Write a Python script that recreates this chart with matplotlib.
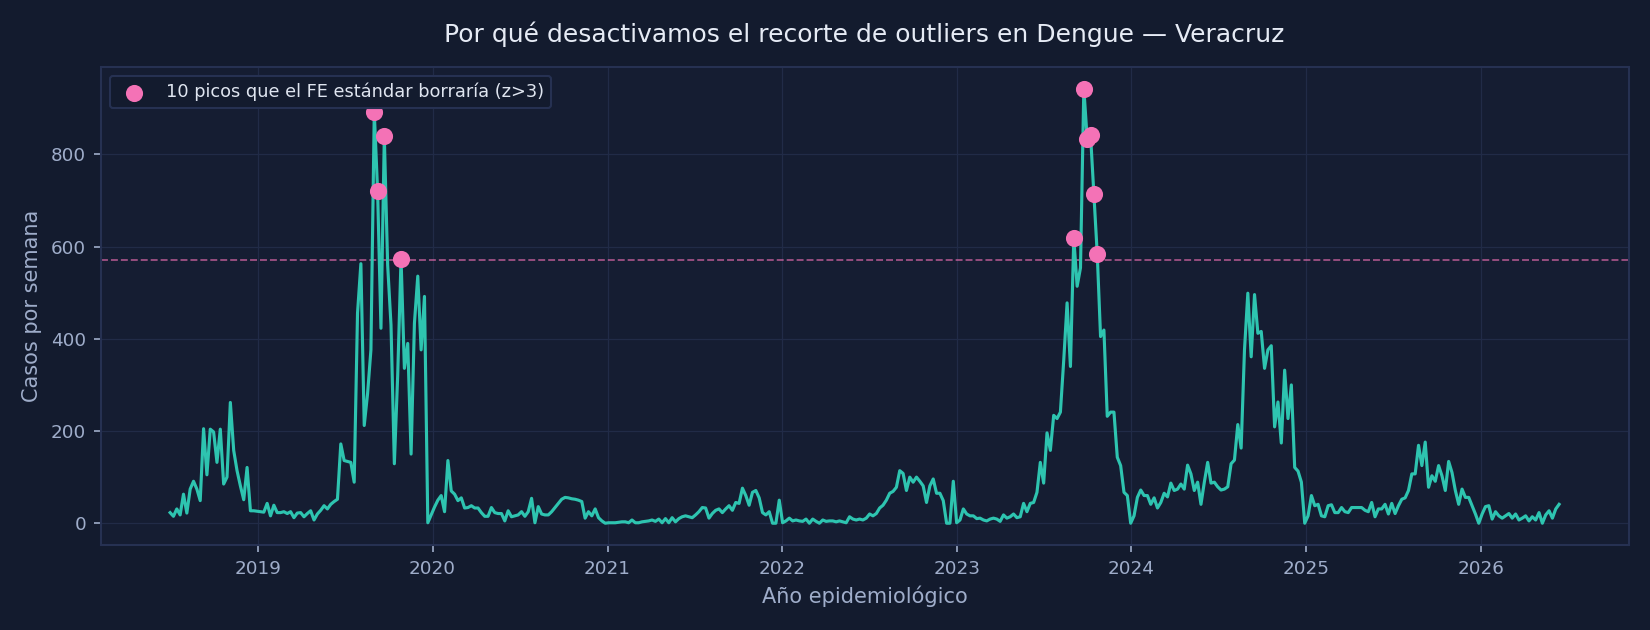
import pandas as pd
import matplotlib.pyplot as plt

# casos semanales de dengue, Veracruz (semana epidemiológica, inicia en domingo)
inicio = '2018-07-01'

casos_2018 = [23, 15, 31, 18, 63, 22, 74, 91, 74, 49, 205, 105, 204, 198, 132, 204, 85, 100, 262, 158,
              114, 81, 51, 121, 27, 27, 26]
casos_2019 = [25, 24, 43, 16, 39, 23, 23, 25, 21, 25, 12, 22,
              23, 14, 21, 27, 7, 20, 28, 38, 31, 41, 47, 52, 172, 136, 134, 132, 89, 456, 563, 212,
              281, 376, 892, 720, 423, 839, 560, 430, 129, 321, 574, 336, 390, 150, 434, 536, 376, 492, 1, 18]
casos_2020 = [35, 50, 60, 25, 136, 70, 63, 49, 55, 33, 34, 38, 33, 33, 23, 15, 15,
              34, 23, 21, 21, 5, 27, 14, 16, 18, 25, 15, 25, 54, 1, 36, 20, 18, 18, 25, 34,
              43, 52, 56, 55, 53, 52, 50, 47, 11, 25, 16, 31, 12, 5, 0]
casos_2021 = [1, 1, 1, 2, 3, 3, 1, 7, 1, 1, 3, 4, 5, 7, 4, 9, 1, 10, 1, 12, 3, 10,
              14, 16, 14, 12, 18, 25, 34, 33, 11, 21, 28, 31, 23, 31, 38, 28, 45, 43, 76, 60,
              39, 67, 71, 55, 23, 18, 25, 0, 0, 50]
casos_2022 = [1, 5, 11, 5, 7, 5, 4, 9, 0, 9, 4, 0, 7, 4, 5, 5, 3, 5, 3, 1, 14, 9, 7, 9, 7, 11, 20,
              16, 21, 33, 39, 50, 65, 69, 78, 114, 108, 71, 100, 89, 100, 91, 81, 45, 81, 96, 65,
              65, 49, 0, 0, 91]
casos_2023 = [1, 7, 31, 20, 16, 16, 10, 11, 7, 5, 9, 11, 9, 4, 18, 11, 14, 20, 12, 14, 43, 25, 43, 45,
              67, 132, 87, 196, 158, 234, 227, 241,
              354, 478, 340, 619, 514, 554, 943, 834, 843, 715, 585, 405, 419, 232, 241, 241, 143, 125,
              67, 60, 0]
casos_2024 = [16, 56, 72, 60, 60, 41, 55, 33, 45, 65, 57, 87, 71, 74, 85, 74, 126, 107, 71, 89, 41, 89,
              132, 87, 89, 79, 72, 74, 79, 129, 137, 214, 163, 376, 499, 361,
              496, 412, 416, 336, 376, 385, 209, 263, 174, 332, 227, 300, 121, 113, 89, 0]
casos_2025 = [16, 60, 38, 41, 16, 14, 38, 40, 23, 23, 34, 25, 23, 34, 34, 34, 34, 28, 25, 45, 14, 31,
              31, 41, 20, 43, 21, 38, 52, 55, 71, 107, 107, 169, 125, 176, 78, 103, 91, 125, 103,
              71, 134, 110, 71, 41, 74, 56, 56, 38, 20, 0]
casos_2026 = [20, 36, 38, 9, 25, 16, 11, 16, 21, 11, 20, 7, 11, 16, 5, 14, 7, 23, 0, 18, 27, 11, 31, 41]

umbral = 570  # corte z>3 del FE estándar

casos = casos_2018 + casos_2019 + casos_2020 + casos_2021 + casos_2022 + casos_2023 + casos_2024 + casos_2025 + casos_2026
df = pd.DataFrame({'fecha': pd.date_range(inicio, periods=len(casos), freq='7D'), 'casos': casos})
picos = df[df['casos'] > umbral]

fondo = '#131b2e'
fondo_ax = '#151d32'
texto = '#9fadca'

fig, ax = plt.subplots(figsize=(11, 4.2), dpi=150)
fig.patch.set_facecolor(fondo)
ax.set_facecolor(fondo_ax)

ax.plot(df['fecha'], df['casos'], color='#2ec4b0', linewidth=1.5, zorder=3)
ax.axhline(y=umbral, color='#f472b6', linestyle='--', linewidth=0.9, alpha=0.6, zorder=2)
ax.scatter(picos['fecha'], picos['casos'], color='#f472b6', s=52, zorder=4,
           label='10 picos que el FE estándar borraría (z>3)')

ax.set_title('Por qué desactivamos el recorte de outliers en Dengue — Veracruz',
             color='#e6ebf5', fontsize=12, pad=12)
ax.set_xlabel('Año epidemiológico', color=texto, fontsize=10)
ax.set_ylabel('Casos por semana', color=texto, fontsize=10)
ax.tick_params(colors=texto, labelsize=8.8)
ax.grid(True, color='#212b47', linewidth=0.6)
ax.set_axisbelow(True)
for s in ax.spines.values():
    s.set_color('#263152')
    s.set_linewidth(1.0)

leg = ax.legend(loc='upper left', fontsize=8.5, facecolor=fondo, edgecolor='#263152', labelcolor='#dfe5f0')
leg.get_frame().set_alpha(1)

plt.subplots_adjust(left=0.061, right=0.987, top=0.894, bottom=0.135)
plt.savefig('out.png', facecolor=fondo)
